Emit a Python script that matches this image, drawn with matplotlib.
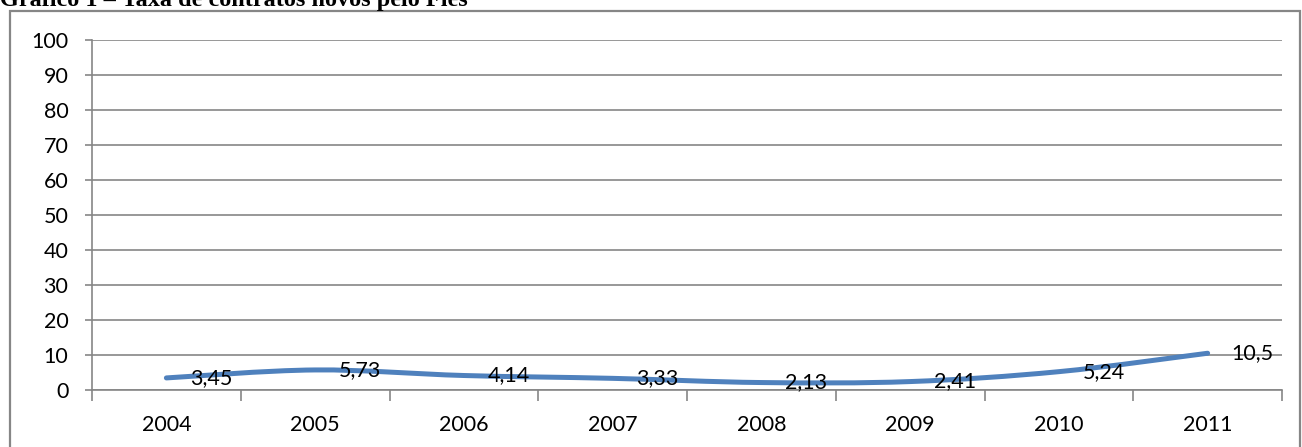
import matplotlib
matplotlib.use("Agg")
import matplotlib.pyplot as plt
from matplotlib.patches import Rectangle, PathPatch
from matplotlib.path import Path

years = ["2004", "2005", "2006", "2007", "2008", "2009", "2010", "2011"]
rates = [3.45, 5.73, 4.14, 3.33, 2.13, 2.41, 5.24, 10.5]
labels = ["3,45", "5,73", "4,14", "3,33", "2,13", "2,41", "5,24", "10,5"]

W, H = 1302, 447
fig = plt.figure(figsize=(W / 100, H / 100), dpi=100)
fig.patch.set_facecolor("white")

# outer chart frame (bottom runs past the image)
fig.add_artist(Rectangle((10 / W, -0.05), 1290 / W, 1.05 - 11 / H,
                         transform=fig.transFigure, fill=False,
                         edgecolor="#868686", linewidth=1.6))

# title sits partly above the top edge, as in the source page
fig.text(0.0, 1 - 6 / H, "Gráfico 1 – Taxa de contratos novos pelo Fies",
         family="Liberation Serif", weight="bold", fontsize=17.5,
         ha="left", va="baseline")

ax = fig.add_axes([92 / W, 1 - 390 / H, (1282 - 92) / W, 350 / H])
x = list(range(len(years)))

# smoothed line (Catmull-Rom -> Bezier), like Excel's smoothed lines
verts = [(x[0], rates[0])]
codes = [Path.MOVETO]
n = len(x)
for i in range(n - 1):
    p0 = (x[max(i - 1, 0)], rates[max(i - 1, 0)])
    p1 = (x[i], rates[i])
    p2 = (x[i + 1], rates[i + 1])
    p3 = (x[min(i + 2, n - 1)], rates[min(i + 2, n - 1)])
    t = 6.0
    c1 = (p1[0] + (p2[0] - p0[0]) / t, p1[1] + (p2[1] - p0[1]) / t)
    c2 = (p2[0] - (p3[0] - p1[0]) / t, p2[1] - (p3[1] - p1[1]) / t)
    verts += [c1, c2, p2]
    codes += [Path.CURVE4] * 3
ax.add_patch(PathPatch(Path(verts, codes), fill=False, edgecolor="#4F81BD",
                       linewidth=3.6, capstyle="round", joinstyle="round",
                       zorder=3))

for xi, yi, lab in zip(x, rates, labels):
    ax.annotate(lab, (xi, yi), xytext=(17, 0), textcoords="offset points",
                ha="left", va="center", fontsize=15.5, family="Lato",
                color="black", zorder=4)

ax.set_xlim(-0.5, len(years) - 0.5)
ax.set_ylim(0, 100)
ax.set_yticks(range(0, 101, 10))
ax.set_xticks([i + 0.5 for i in range(-1, len(years))], minor=False)
ax.set_xticklabels([])
ax.set_xticks(x, minor=True)
ax.set_xticklabels(years, minor=True)
ax.tick_params(axis="x", which="major", length=8, width=1.2, color="#868686")
ax.tick_params(axis="x", which="minor", length=0, pad=18)
ax.tick_params(axis="y", length=5, width=1.2, color="#868686", pad=12)
for lab in ax.get_xticklabels(minor=True) + ax.get_yticklabels():
    lab.set_fontfamily("Lato")
    lab.set_fontsize(15.5)

ax.grid(axis="y", color="#868686", linewidth=1.2)
ax.set_axisbelow(True)
for side in ["top", "right"]:
    ax.spines[side].set_visible(False)
ax.spines["left"].set_color("#868686")
ax.spines["bottom"].set_color("#868686")
ax.spines["left"].set_linewidth(1.2)
ax.spines["bottom"].set_linewidth(1.2)

fig.savefig("out.png", dpi=100)
